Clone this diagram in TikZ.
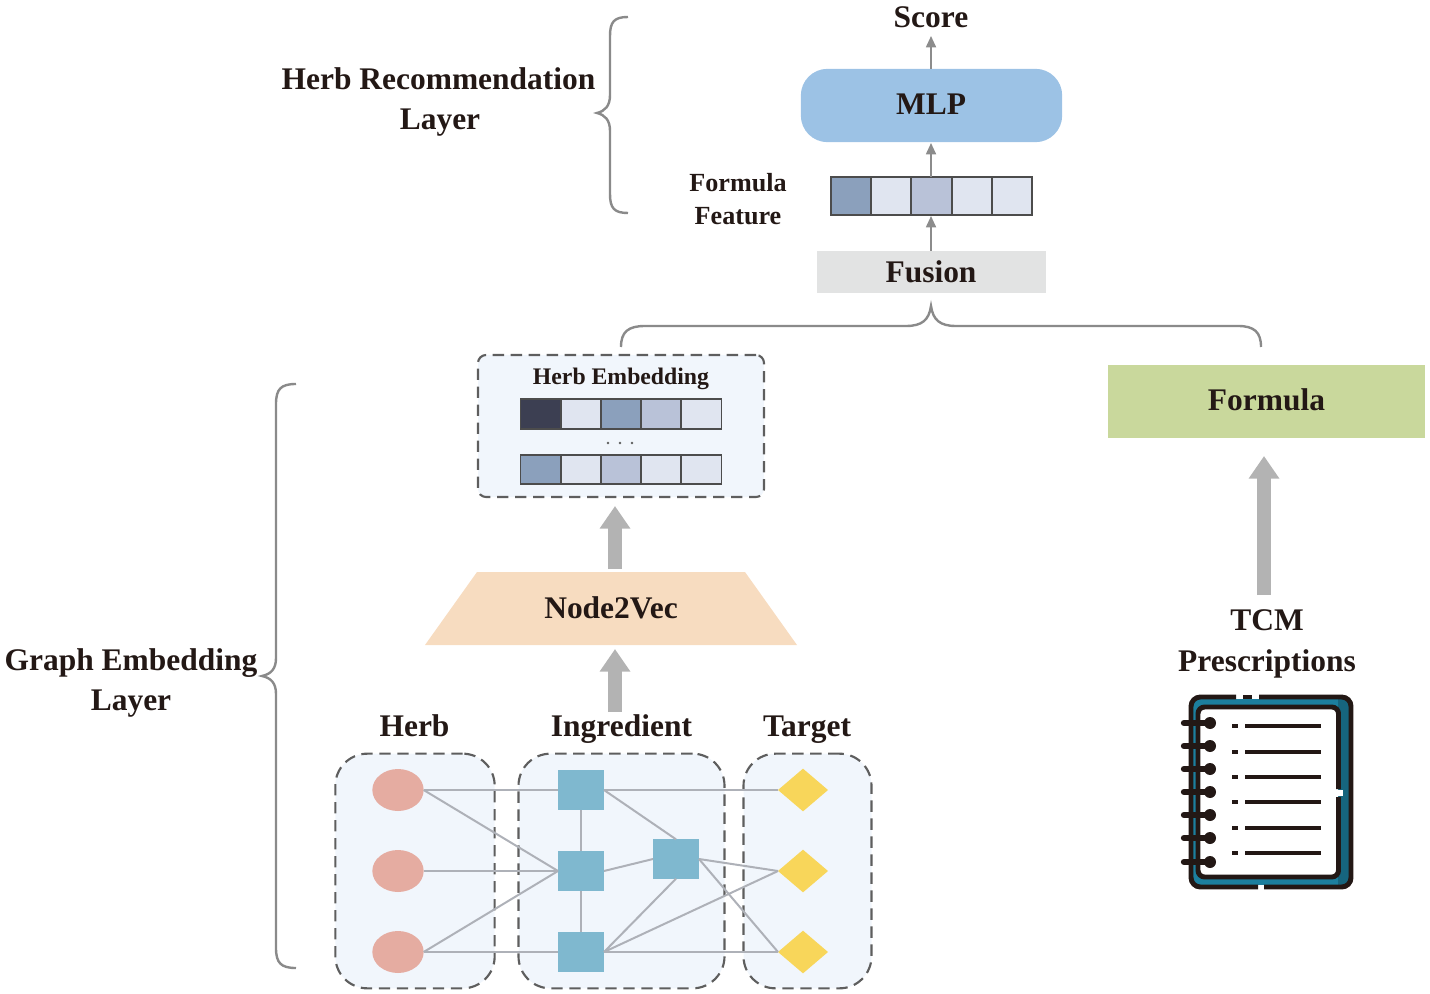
\documentclass[tikz,border=0pt]{standalone}
\usepackage{fontspec}
\setmainfont{Liberation Serif}
\usetikzlibrary{arrows.meta,shapes.geometric}
\definecolor{ink}{HTML}{231815}
\definecolor{linegray}{HTML}{AEB1B8}
\definecolor{arrowgray}{HTML}{8C8C8C}
\definecolor{bigarrow}{HTML}{B3B3B3}
\definecolor{bracegray}{HTML}{8A8A8A}
\definecolor{dashgray}{HTML}{5E5E5E}
\definecolor{panel}{HTML}{F1F6FC}
\definecolor{vdark}{HTML}{3C3F52}
\definecolor{vmid}{HTML}{8BA0BC}
\definecolor{vsoft}{HTML}{B9C2D8}
\definecolor{vpale}{HTML}{E0E5F0}
\definecolor{teal}{HTML}{1C7F9E}
\definecolor{herbc}{HTML}{E5ACA1}
\definecolor{ingc}{HTML}{7FB8CF}
\definecolor{tarc}{HTML}{F8D65A}
\definecolor{peach}{HTML}{F7DCC0}
\definecolor{fusc}{HTML}{E2E3E3}
\definecolor{mlpc}{HTML}{9CC2E5}
\definecolor{formc}{HTML}{C9D89C}
\tikzset{
  lab/.style={text=ink,font=\bfseries\fontsize{23.6}{28}\selectfont,inner sep=0pt},
  labmid/.style={text=ink,font=\bfseries\fontsize{19.6}{24}\selectfont,inner sep=0pt},
  labsmall/.style={text=ink,font=\bfseries\fontsize{17.8}{22}\selectfont,inner sep=0pt},
  panelbox/.style={draw=dashgray,fill=panel,line width=1.6pt,dash pattern=on 8.5pt off 5pt,inner sep=0pt,outer sep=0pt},
  cell/.style={draw=black!70,line width=1.4pt,minimum width=30.2pt,minimum height=22.3pt,inner sep=0pt,outer sep=0pt},
  smallarrow/.style={draw=arrowgray,line width=1.3pt,-{Triangle[length=8.5pt,width=7.5pt]}},
  thickarrow/.style={draw=bigarrow,line width=11pt,-{Triangle[length=17pt,width=22pt]}},
  bracepath/.style={draw=bracegray,line width=1.8pt},
  edgeline/.style={draw=linegray,line width=1.5pt},
  herbnode/.style={ellipse,fill=herbc,minimum width=38.5pt,minimum height=31.5pt,inner sep=0pt,outer sep=0pt},
  ingnode/.style={rectangle,fill=ingc,minimum width=34.5pt,minimum height=29.5pt,inner sep=0pt,outer sep=0pt},
  tarnode/.style={diamond,fill=tarc,minimum width=37.5pt,minimum height=32pt,inner sep=0pt,outer sep=0pt,aspect=1.16},
  nbline/.style={line width=3.7pt,draw=ink},
  nbring/.style={line width=4.8pt,draw=ink,line cap=round}
}
\begin{document}
\begin{tikzpicture}[x=0.75pt,y=-0.75pt]
\useasboundingbox (0,0) rectangle (1430,994);

% panels
\node[panelbox,rounded corners=24pt,minimum width=119.5pt,minimum height=176pt] (pherb) at (415,871) {};
\node[panelbox,rounded corners=24pt,minimum width=154.5pt,minimum height=176pt] (ping) at (621.5,871) {};
\node[panelbox,rounded corners=24pt,minimum width=96pt,minimum height=176pt] (ptar) at (807.5,871) {};
\node[panelbox,rounded corners=6pt,minimum width=214.5pt,minimum height=106.5pt] (pemb) at (621,426) {};

% graph nodes
\node[herbnode] (c1) at (398,790) {};
\node[herbnode] (c2) at (398,871) {};
\node[herbnode] (c3) at (398,952) {};
\node[ingnode] (s1) at (581,790) {};
\node[ingnode] (s2) at (581,871) {};
\node[ingnode] (s3) at (581,952) {};
\node[ingnode] (s4) at (676,859) {};
\node[tarnode] (d1) at (803,790) {};
\node[tarnode] (d2) at (803,871) {};
\node[tarnode] (d3) at (803,952) {};

\foreach \a/\b in {c1.east/s1.west,c1.east/s2.west,c2.east/s2.west,c3.east/s2.west,c3.east/s3.west,
  s1.south/s2.north,s2.south/s3.north,s1.east/d1.west,s1.east/s4.north,s2.east/s4.west,
  s4.east/d2.west,s4.east/d3.west,s4.south/s3.east,s3.east/d2.west,s3.east/d3.west}
  \draw[edgeline] (\a) -- (\b);

\node[lab] (theherb) at (414.5,726) {Herb};
\node[lab] (theing) at (621.5,729) {Ingredient};
\node[lab] (thetar) at (807,729.5) {Target};

% Node2Vec
\fill[peach] (477,572) -- (745,572) -- (797,645) -- (425,645) -- cycle;
\node[lab] (n2v) at (611,607.5) {Node2Vec};

\coordinate (g0) at (615,712);
\coordinate (g1) at (615,649);
\draw[thickarrow] (g0) -- (g1);
\coordinate (g2) at (615,569);
\coordinate (g3) at (615,506);
\draw[thickarrow] (g2) -- (g3);

% herb embedding
\node[labsmall] (hemb) at (621,379) {Herb Embedding};
\foreach \i/\c in {1/vdark,2/vpale,3/vmid,4/vsoft,5/vpale}
  \node[cell,fill=\c] (a\i) at ({520.5+40.2*(\i-0.5)},414) {};
\foreach \i/\c in {1/vmid,2/vpale,3/vsoft,4/vpale,5/vpale}
  \node[cell,fill=\c] (b\i) at ({520.5+40.2*(\i-0.5)},469.5) {};
\foreach \x in {608,620,632} \fill[dashgray] (\x,443) circle (1pt);

% fusion
\node[fill=fusc,minimum width=172pt,minimum height=31.5pt,inner sep=0pt,outer sep=0pt] (fus) at (931.5,272) {};
\node[lab] at (931,272) {Fusion};
\foreach \i/\c in {1/vmid,2/vpale,3/vsoft,4/vpale,5/vpale}
  \node[cell,fill=\c,minimum height=28.5pt] (f\i) at ({831+40.2*(\i-0.5)},196) {};
\node[labmid] (ff1) at (738,183) {Formula};
\node[labmid] (ff2) at (738,216) {Feature};
\node[fill=mlpc,rounded corners=20pt,minimum width=196pt,minimum height=55pt,inner sep=0pt,outer sep=0pt] (mlp) at (931.5,105.5) {};
\node[lab] at (931,104.5) {MLP};
\node[lab] (score) at (931,17) {Score};
\coordinate (sc) at (931,36);
\coordinate (mb) at (931,143);
\coordinate (fb) at (931,177);
\coordinate (ft) at (931,216);
\coordinate (mt) at (931,69);
\coordinate (fust) at (931,251);
\draw[smallarrow] (mt) -- (sc);
\draw[smallarrow] (fb) -- (mb);
\draw[smallarrow] (fust) -- (ft);

% formula
\node[fill=formc,minimum width=238pt,minimum height=55pt,inner sep=0pt,outer sep=0pt] (form) at (1266.5,401.5) {};
\node[lab] at (1266.5,400) {Formula};
\coordinate (t0) at (1264,595);
\coordinate (t1) at (1264,456);
\draw[thickarrow] (t0) -- (t1);
\node[lab] (tcm) at (1267,620.5) {TCM};
\node[lab] (pres) at (1267,664) {Prescriptions};

% braces
\draw[bracepath] (621,347) .. controls (621,332) and (628,326) .. (645,326) -- (906,326)
  .. controls (922,326) and (929,320) .. (931,306)
  .. controls (933,320) and (940,326) .. (956,326) -- (1238,326)
  .. controls (1254,326) and (1261,332) .. (1261,347);
\draw[bracepath] (628,17) .. controls (614,17) and (610,22) .. (610,36) -- (610,95)
  .. controls (610,106) and (605,111) .. (597,113)
  .. controls (605,115) and (610,120) .. (610,131) -- (610,194)
  .. controls (610,208) and (614,213) .. (628,213);
\draw[bracepath] (296,384) .. controls (281,384) and (276,389) .. (276,404) -- (276,658)
  .. controls (276,669) and (271,674) .. (262,676)
  .. controls (271,678) and (276,683) .. (276,694) -- (276,948)
  .. controls (276,963) and (281,968) .. (296,968);

\node[lab] (hr1) at (438.5,79) {Herb Recommendation};
\node[lab] (hr2) at (440,122.5) {Layer};
\node[lab] (ge1) at (131,663) {Graph Embedding};
\node[lab] (ge2) at (131,703.5) {Layer};

% notebook
\fill[teal] (1192,699) rectangle (1350,885);
\fill[teal!80!black] (1338,699) rectangle (1350,885);
\draw[nbline,rounded corners=7pt] (1236,697) -- (1191,697) -- (1191,887) -- (1258,887);
\draw[nbline,rounded corners=7pt] (1259,697) -- (1351,697) -- (1351,887) -- (1264,887);
\draw[nbline] (1243,697) -- (1252,697);
\fill[white,rounded corners=3pt] (1198,707) rectangle (1338,877);
\draw[nbline,rounded corners=5pt] (1338.5,789) -- (1338.5,707) -- (1198,707) -- (1198,877) -- (1338.5,877) -- (1338.5,797);
\fill[white] (1336.5,790) rectangle (1343,796);
\foreach \y in {723,746,769,792,815,838,862} {
  \draw[nbring] (1184,\y) -- (1210,\y);
  \fill[ink] (1210,\y) circle (4.5pt);
}
\foreach \y in {726,752,777,802,828,853} {
  \draw[nbline,line width=3.4pt] (1232,\y) -- (1238,\y);
  \draw[nbline,line width=3.4pt] (1245,\y) -- (1321,\y);
}
\end{tikzpicture}
\end{document}
